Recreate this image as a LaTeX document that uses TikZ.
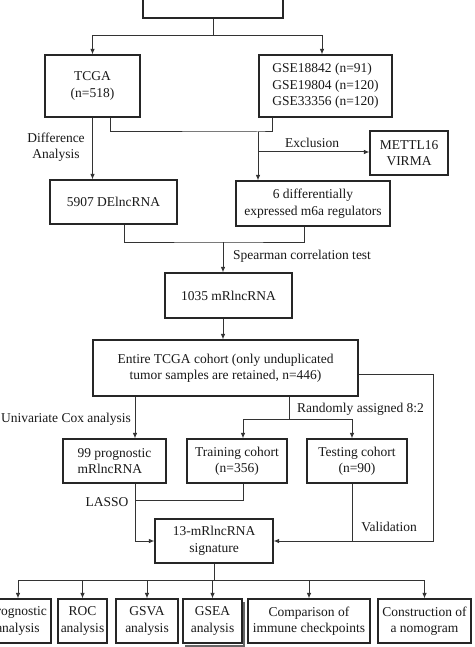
\documentclass[tikz,border=0pt]{standalone}
\usepackage{fontspec}
\setmainfont{Liberation Serif}
\usetikzlibrary{arrows.meta}
\begin{document}
\begin{tikzpicture}[x=1pt,y=-1pt,
  box/.style={draw=black!85, line width=1.1pt, inner sep=0pt, align=center,
    font=\fontsize{13.5}{16.5}\selectfont, text=black!90},
  conn/.style={draw=black!80, line width=1pt},
  arr/.style={conn, -{Latex[length=5.5pt,width=4.5pt]}},
  lbl/.style={font=\fontsize{13.5}{16.5}\selectfont, text=black!90, inner sep=0pt, align=center}]
\useasboundingbox (0,0) rectangle (474,647);
\clip (0,0) rectangle (474,647);
\fill[white] (0,0) rectangle (474,647);
% nodes
\node[box, minimum width=140pt, minimum height=48pt] (top) at (213,-6) {};
\node[box, minimum width=95pt, minimum height=62pt] (tcga) at (92.5,86) {TCGA\\(n=518)};
\node[box, minimum width=133pt, minimum height=62pt, align=left] (gse) at (325.5,86) {GSE18842 (n=91)\\GSE19804 (n=120)\\GSE33356 (n=120)};
\node[box, minimum width=78pt, minimum height=44pt] (mettl) at (409,153) {METTL16\\VIRMA};
\node[box, minimum width=127pt, minimum height=44pt] (de) at (113.5,202) {5907 DElncRNA};
\node[box, minimum width=154pt, minimum height=45pt] (m6a) at (313,203.5) {6 differentially\\expressed m6a regulators};
\node[box, minimum width=127pt, minimum height=45pt] (mr) at (228.5,295.5) {1035 mRlncRNA};
\node[box, minimum width=265pt, minimum height=56pt] (entire) at (225.5,368) {Entire TCGA cohort (only unduplicated\\tumor samples are retained, n=446)};
\node[box, minimum width=103pt, minimum height=44pt, align=left] (p99) at (114.5,461) {99 prognostic\\mRlncRNA};
\node[box, minimum width=100pt, minimum height=44pt] (train) at (237,461) {Training cohort\\(n=356)};
\node[box, minimum width=100pt, minimum height=44pt] (test) at (357,461) {Testing cohort\\(n=90)};
\node[box, minimum width=118pt, minimum height=44pt] (sig) at (214,541) {13-mRlncRNA\\signature};
\node[box, minimum width=66pt, minimum height=44pt] (b1) at (18,621) {Prognostic\\analysis};
\node[box, minimum width=49pt, minimum height=44pt] (b2) at (82.5,621) {ROC\\analysis};
\node[box, minimum width=62pt, minimum height=44pt] (b3) at (147,621) {GSVA\\analysis};
\fill[black!60] (185,645) rectangle (244.5,646.5);
\fill[black!60] (243,602) rectangle (244.5,646.5);
\node[box, minimum width=59pt, minimum height=44pt] (b4) at (212.5,621) {GSEA\\analysis};
\node[box, minimum width=122pt, minimum height=44pt] (b5) at (309,621) {Comparison of\\immune checkpoints};
\node[box, minimum width=93pt, minimum height=44pt] (b6) at (424.5,621) {Construction of\\a nomogram};
% labels
\node[lbl] (ldiff) at (56,147) {Difference\\Analysis};
\node[lbl] (lexcl) at (312,143) {Exclusion};
\node[lbl] (lspear) at (302,256) {Spearman correlation test};
\node[lbl, anchor=west] (lcox) at (1,419) {Univariate Cox analysis};
\node[lbl, anchor=west] (lrand) at (297,409) {Randomly assigned 8:2};
\node[lbl] (llasso) at (107,502) {LASSO};
\node[lbl] (lval) at (389,527) {Validation};
% coordinates
\coordinate (j1) at (213,36);
\coordinate (j2) at (258,132);
\coordinate (j3) at (258,152);
\coordinate (j4) at (223,242);
\coordinate (j5) at (135,541);
\coordinate (l1) at (135,500);
\coordinate (r0) at (289,419);
\coordinate (r1) at (243,419);
\coordinate (r2) at (352,419);
\coordinate (v1) at (433,374);
\coordinate (v2) at (433,541);
\coordinate (j7) at (214,580);
% connectors
\draw[conn] (top.south) -- (j1);
\draw[arr] (j1) -| (tcga.north);
\draw[arr] (j1) -| ([xshift=-3.5pt]gse.north);
\draw[arr] (tcga.south) -- (tcga.south |- de.north);
\draw[conn] ([xshift=17.5pt]tcga.south) |- (j2) -| ([xshift=-53.5pt]gse.south);
\draw[arr] (j2) -- (j2 |- m6a.north);
\draw[arr] (j3) -- (j3 -| mettl.west);
\draw[conn] ([xshift=10.5pt]de.south) |- (j4) -| ([xshift=-9pt]m6a.south);
\draw[arr] (j4) -- (j4 |- mr.north);
\draw[arr] (j4 |- mr.south) -- (j4 |- entire.north);
\draw[arr] (j5 |- entire.south) -- (j5 |- p99.north);
\draw[arr] (j5 |- p99.south) -- (j5) -- (sig.west);
\draw[conn] (r0 |- entire.south) -- (r0);
\draw[conn] (r1) -- (r2);
\draw[arr] (r1) -- (r1 |- train.north);
\draw[arr] (r2) -- (r2 |- test.north);
\draw[conn] (r1 |- train.south) |- (l1);
\draw[arr] (entire.east |- v1) -- (v1) -- (v2) -- (sig.east);
\draw[conn] (r2 |- test.south) -- (r2 |- v2);
\draw[conn] (sig.south) -- (j7);
\draw[conn] (j7 -| b1.north) -- (j7 -| b6.north);
\foreach \b in {b1,b2,b3,b4,b5,b6} {\draw[arr] (j7 -| \b.north) -- (\b.north);}
\end{tikzpicture}
\end{document}
